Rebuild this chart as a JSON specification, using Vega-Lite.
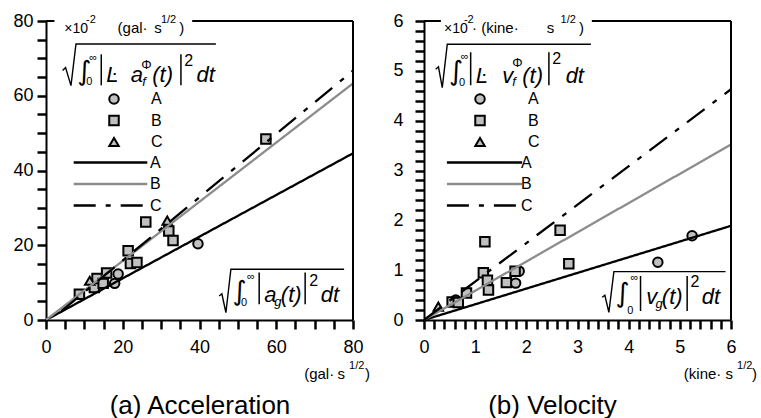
{
  "$schema": "https://vega.github.io/schema/vega-lite/v6.json",
  "background": "white",
  "padding": {"left": 12, "top": 12, "right": 2, "bottom": 0},
  "config": {
    "font": "Liberation Sans",
    "view": {"stroke": null},
    "axis": {"domainColor": "black", "domainWidth": 2, "tickColor": "black", "tickWidth": 2.5, "labelColor": "black", "labelFontSize": 18, "grid": false, "labelFlush": false, "labelOverlap": false, "titleFontWeight": "normal", "titleColor": "black", "titleFontSize": 26, "labelFont": "Liberation Sans", "titleFont": "Liberation Sans"},
    "legend": {"labelColor": "black", "labelFont": "Liberation Sans", "labelFontSize": 16, "padding": 0, "rowPadding": 3.5, "title": null},
    "text": {"color": "black", "align": "left", "baseline": "alphabetic"}
  },
  "datasets": {
    "ptsA": [
      {"x": 17.9, "y": 9.8, "s": "A"}, {"x": 18.8, "y": 12.3, "s": "A"}, {"x": 39.6, "y": 20.4, "s": "A"},
      {"x": 8.7, "y": 6.9, "s": "B"}, {"x": 12.6, "y": 8.7, "s": "B"}, {"x": 13.3, "y": 11.1, "s": "B"}, {"x": 14.9, "y": 9.8, "s": "B"}, {"x": 15.8, "y": 12.6, "s": "B"}, {"x": 21.4, "y": 18.5, "s": "B"}, {"x": 22.0, "y": 15.1, "s": "B"}, {"x": 23.7, "y": 15.4, "s": "B"}, {"x": 26.0, "y": 26.2, "s": "B"}, {"x": 32.0, "y": 23.8, "s": "B"}, {"x": 33.1, "y": 21.3, "s": "B"}, {"x": 57.3, "y": 48.4, "s": "B"},
      {"x": 11.4, "y": 10.5, "s": "C"}, {"x": 31.6, "y": 26.6, "s": "C"}
    ],
    "fitA": [
      {"x": 0, "y": 0, "f": "A"}, {"x": 80, "y": 44.6, "f": "A"},
      {"x": 0, "y": 0, "f": "B"}, {"x": 80, "y": 63.3, "f": "B"},
      {"x": 4, "y": 2.4, "f": "C"}, {"x": 80, "y": 66.7, "f": "C"}
    ],
    "ptsB": [
      {"x": 1.86, "y": 0.98, "s": "A"}, {"x": 1.79, "y": 0.74, "s": "A"}, {"x": 4.57, "y": 1.16, "s": "A"}, {"x": 5.24, "y": 1.69, "s": "A"}, {"x": 0.62, "y": 0.40, "s": "A"},
      {"x": 1.19, "y": 1.57, "s": "B"}, {"x": 2.66, "y": 1.80, "s": "B"}, {"x": 2.83, "y": 1.13, "s": "B"}, {"x": 1.16, "y": 0.95, "s": "B"}, {"x": 1.24, "y": 0.80, "s": "B"}, {"x": 1.26, "y": 0.60, "s": "B"}, {"x": 1.78, "y": 0.98, "s": "B"}, {"x": 1.61, "y": 0.75, "s": "B"}, {"x": 0.83, "y": 0.54, "s": "B"}, {"x": 0.55, "y": 0.36, "s": "B"}, {"x": 0.67, "y": 0.35, "s": "B"},
      {"x": 0.28, "y": 0.27, "s": "C"}
    ],
    "fitB": [
      {"x": 0, "y": 0, "f": "A"}, {"x": 6, "y": 1.89, "f": "A"},
      {"x": 0, "y": 0, "f": "B"}, {"x": 6, "y": 3.52, "f": "B"},
      {"x": 0, "y": 0, "f": "C"}, {"x": 6, "y": 4.63, "f": "C"}
    ],
    "frameA": [
      {"x": 80, "y": 0, "x2": 80, "y2": 80}, {"x": 0, "y": 80, "x2": 2.2, "y2": 80}, {"x": 38.1, "y": 80, "x2": 80, "y2": 80}
    ],
    "frameB": [
      {"x": 6, "y": 0, "x2": 6, "y2": 6}, {"x": 0, "y": 6, "x2": 0.33, "y2": 6}, {"x": 3.28, "y": 6, "x2": 6, "y2": 6}
    ],
    "barsA": [
      {"x": 14.4, "y": 62.8, "x2": 14.4, "y2": 71.09}, {"x": 35.16, "y": 62.8, "x2": 35.16, "y2": 71.09},
      {"x": 55.55, "y": 4.2, "x2": 55.55, "y2": 12.68}, {"x": 67.53, "y": 4.2, "x2": 67.53, "y2": 12.68}
    ],
    "barsB": [
      {"x": 0.912, "y": 4.71, "x2": 0.912, "y2": 5.372}, {"x": 2.441, "y": 4.71, "x2": 2.441, "y2": 5.372},
      {"x": 4.232, "y": 0.181, "x2": 4.232, "y2": 0.883}, {"x": 5.143, "y": 0.181, "x2": 5.143, "y2": 0.883}
    ],
    "radA": [
      {"x": 4.32, "y": 66.73, "k": 1, "id": "top"}, {"x": 5.10, "y": 67.53, "k": 2, "id": "top"}, {"x": 6.51, "y": 62.72, "k": 3, "id": "top"}, {"x": 7.81, "y": 73.85, "k": 4, "id": "top"}, {"x": 44.27, "y": 73.85, "k": 5, "id": "top"},
      {"x": 45.13, "y": 6.42, "k": 1, "id": "bottom"}, {"x": 45.83, "y": 7.01, "k": 2, "id": "bottom"}, {"x": 46.88, "y": 1.98, "k": 3, "id": "bottom"}, {"x": 48.18, "y": 13.57, "k": 4, "id": "bottom"}, {"x": 77.68, "y": 13.57, "k": 5, "id": "bottom"}
    ],
    "radB": [
      {"x": 0.2285, "y": 5.031, "k": 1, "id": "top"}, {"x": 0.283, "y": 5.081, "k": 2, "id": "top"}, {"x": 0.357, "y": 4.664, "k": 3, "id": "top"}, {"x": 0.455, "y": 5.533, "k": 4, "id": "top"}, {"x": 3.262, "y": 5.533, "k": 5, "id": "top"},
      {"x": 3.482, "y": 0.4555, "k": 1, "id": "bottom"}, {"x": 3.535, "y": 0.496, "k": 2, "id": "bottom"}, {"x": 3.613, "y": 0.1545, "k": 3, "id": "bottom"}, {"x": 3.711, "y": 0.971, "k": 4, "id": "bottom"}, {"x": 5.893, "y": 0.971, "k": 5, "id": "bottom"}
    ],
    "txtA": [
      {"x": 8.15, "y": 64.27, "t": "∫", "role": "integral"}, {"x": 48.6, "y": 5.4, "t": "∫", "role": "integral"},
      {"x": 11.28, "y": 69.2, "t": "∞", "role": "limit"}, {"x": 10.49, "y": 62.8, "t": "0", "role": "limit"}, {"x": 52.4, "y": 10.6, "t": "∞", "role": "limit"}, {"x": 50.8, "y": 3.67, "t": "0", "role": "limit"},
      {"x": 15.7, "y": 63.6, "t": "Ŀ", "role": "body"}, {"x": 22.1, "y": 63.6, "t": "a", "role": "body"}, {"x": 27.7, "y": 63.6, "t": "(t)", "role": "body"}, {"x": 39.2, "y": 63.6, "t": "dt", "role": "body"}, {"x": 56.9, "y": 4.71, "t": "a", "role": "body"}, {"x": 61.2, "y": 4.71, "t": "(t)", "role": "body"}, {"x": 71.6, "y": 4.71, "t": "dt", "role": "body"},
      {"x": 25.08, "y": 62.5, "t": "f", "role": "index"}, {"x": 59.45, "y": 3.67, "t": "g", "role": "index"},
      {"x": 24.8, "y": 67.1, "t": "Φ", "role": "super"},
      {"x": 36.0, "y": 67.9, "t": "2", "role": "power"}, {"x": 68.6, "y": 9.02, "t": "2", "role": "power"},
      {"x": 4.77, "y": 76.7, "t": "×10", "role": "scale"},
      {"x": 18.65, "y": 76.7, "t": "(gal·", "role": "unit"}, {"x": 28.2, "y": 76.7, "t": "s", "role": "unit"}, {"x": 34.7, "y": 76.7, "t": ")", "role": "unit"},
      {"x": 67.27, "y": -15.68, "t": "(gal·", "role": "unit"}, {"x": 75.94, "y": -15.68, "t": "s", "role": "unit"}, {"x": 83.15, "y": -15.68, "t": ")", "role": "unit"},
      {"x": 10.42, "y": 79.4, "t": "-2", "role": "unitexp"}, {"x": 29.95, "y": 79.4, "t": "1/2", "role": "unitexp"}, {"x": 78.98, "y": -13.0, "t": "1/2", "role": "unitexp"}
    ],
    "txtB": [
      {"x": 0.488, "y": 4.814, "t": "∫", "role": "integral"}, {"x": 3.744, "y": 0.365, "t": "∫", "role": "integral"},
      {"x": 0.717, "y": 5.212, "t": "∞", "role": "limit"}, {"x": 0.684, "y": 4.69, "t": "0", "role": "limit"}, {"x": 4.037, "y": 0.783, "t": "∞", "role": "limit"}, {"x": 3.971, "y": 0.114, "t": "0", "role": "limit"},
      {"x": 1.01, "y": 4.764, "t": "Ŀ", "role": "body"}, {"x": 1.529, "y": 4.764, "t": "v", "role": "body"}, {"x": 1.92, "y": 4.764, "t": "(t)", "role": "body"}, {"x": 2.768, "y": 4.764, "t": "dt", "role": "body"}, {"x": 4.342, "y": 0.315, "t": "v", "role": "body"}, {"x": 4.648, "y": 0.315, "t": "(t)", "role": "body"}, {"x": 5.43, "y": 0.315, "t": "dt", "role": "body"},
      {"x": 1.725, "y": 4.69, "t": "f", "role": "index"}, {"x": 4.525, "y": 0.235, "t": "g", "role": "index"},
      {"x": 1.725, "y": 5.071, "t": "Φ", "role": "super"},
      {"x": 2.506, "y": 5.131, "t": "2", "role": "power"}, {"x": 5.209, "y": 0.656, "t": "2", "role": "power"},
      {"x": 0.39, "y": 5.754, "t": "×10", "role": "scale"},
      {"x": 0.9375, "y": 5.754, "t": "· (kine·", "role": "unit"}, {"x": 2.40, "y": 5.754, "t": "s", "role": "unit"}, {"x": 3.027, "y": 5.754, "t": ")", "role": "unit"},
      {"x": 5.078, "y": -1.176, "t": "(kine·", "role": "unit"}, {"x": 5.893, "y": -1.176, "t": "s", "role": "unit"}, {"x": 6.412, "y": -1.176, "t": ")", "role": "unit"},
      {"x": 0.781, "y": 5.954, "t": "-2", "role": "unitexp"}, {"x": 2.67, "y": 5.954, "t": "1/2", "role": "unitexp"}, {"x": 6.119, "y": -0.975, "t": "1/2", "role": "unitexp"}
    ]
  },
  "spacing": 71,
  "bounds": "flush",
  "resolve": {"scale": {"shape": "independent", "color": "independent", "strokeDash": "independent"}, "legend": {"shape": "independent", "color": "independent", "strokeDash": "independent"}},
  "hconcat": [
    {
      "width": 307,
      "height": 299,
      "encoding": {
        "x": {"field": "x", "type": "quantitative", "scale": {"domain": [0, 80], "nice": false, "zero": false},
          "axis": {"values": [0, 5, 10, 15, 20, 25, 30, 35, 40, 45, 50, 55, 60, 65, 70, 75, 80], "labelExpr": "datum.value % 20 === 0 ? datum.label : ''", "ticks": true, "tickSize": 9, "tickColor": "#000000", "tickWidth": 2.5, "tickOpacity": 1, "labelPadding": 9, "labelOverlap": false, "title": "(a) Acceleration", "titlePadding": 36}},
        "y": {"field": "y", "type": "quantitative", "scale": {"domain": [0, 80], "nice": false, "zero": false},
          "axis": {"values": [0, 5, 10, 15, 20, 25, 30, 35, 40, 45, 50, 55, 60, 65, 70, 75, 80], "labelExpr": "datum.value % 20 === 0 ? datum.label : ''", "ticks": true, "tickSize": 9, "tickColor": "#000000", "tickWidth": 2.5, "tickOpacity": 1, "labelPadding": 4, "labelOverlap": false, "title": null}}
      },
      "layer": [
        {
          "data": {"name": "ptsA"},
          "mark": {"type": "point", "filled": true, "fill": "#c0c0c0", "stroke": "black", "strokeWidth": 2, "size": 90, "opacity": 1},
          "encoding": {
            "shape": {"field": "s", "type": "nominal", "scale": {"domain": ["A", "B", "C"], "range": ["circle", "square", "triangle-up"]},
              "legend": {"orient": "none", "legendX": 60, "legendY": 70, "labelOffset": 29, "symbolSize": 90, "symbolStrokeWidth": 2, "symbolOpacity": 1,
                "encode": {"symbols": {"fill": {"value": "#c0c0c0"}, "stroke": {"value": "black"}, "strokeWidth": {"value": 2}, "opacity": {"value": 1}}}}}
          }
        },
        {
          "data": {"name": "fitA"},
          "mark": {"type": "line", "strokeWidth": 2.3, "clip": true},
          "encoding": {
            "color": {"field": "f", "type": "nominal", "scale": {"range": ["black", "#8c8c8c", "black"]},
              "legend": {"orient": "none", "legendX": 55, "legendY": 132, "labelOffset": 30, "symbolType": "M-4.6,0H4.6", "symbolSize": 256, "symbolStrokeWidth": 2.5}},
            "strokeDash": {"field": "f", "type": "nominal", "scale": {"range": [[1, 0], [1, 0], [22, 10, 5, 10]]},
              "legend": {"orient": "none", "legendX": 55, "legendY": 132, "labelOffset": 30, "symbolType": "M-4.6,0H4.6", "symbolSize": 256, "symbolStrokeWidth": 2.5}}
          }
        },
        {"data": {"name": "frameA"}, "mark": {"type": "rule", "color": "black", "strokeWidth": 2}, "encoding": {"x2": {"field": "x2"}, "y2": {"field": "y2"}}},
        {"data": {"name": "barsA"}, "mark": {"type": "rule", "color": "black", "strokeWidth": 1.5}, "encoding": {"x2": {"field": "x2"}, "y2": {"field": "y2"}}},
        {"data": {"name": "radA"}, "mark": {"type": "line", "color": "black", "strokeWidth": 1.4, "strokeJoin": "miter"}, "encoding": {"order": {"field": "k"}, "detail": {"field": "id"}}},
        {"data": {"name": "txtA"}, "transform": [{"filter": "datum.role === 'integral'"}], "mark": {"type": "text", "fontSize": 27, "font": "DejaVu Sans"}, "encoding": {"text": {"field": "t"}}},
        {"data": {"name": "txtA"}, "transform": [{"filter": "datum.role === 'limit'"}], "mark": {"type": "text", "fontSize": 11}, "encoding": {"text": {"field": "t"}}},
        {"data": {"name": "txtA"}, "transform": [{"filter": "datum.role === 'body'"}], "mark": {"type": "text", "fontSize": 22, "fontStyle": "italic"}, "encoding": {"text": {"field": "t"}}},
        {"data": {"name": "txtA"}, "transform": [{"filter": "datum.role === 'index'"}], "mark": {"type": "text", "fontSize": 13, "fontStyle": "italic"}, "encoding": {"text": {"field": "t"}}},
        {"data": {"name": "txtA"}, "transform": [{"filter": "datum.role === 'super'"}], "mark": {"type": "text", "fontSize": 13}, "encoding": {"text": {"field": "t"}}},
        {"data": {"name": "txtA"}, "transform": [{"filter": "datum.role === 'power'"}], "mark": {"type": "text", "fontSize": 16}, "encoding": {"text": {"field": "t"}}},
        {"data": {"name": "txtA"}, "transform": [{"filter": "datum.role === 'scale'"}], "mark": {"type": "text", "fontSize": 14}, "encoding": {"text": {"field": "t"}}},
        {"data": {"name": "txtA"}, "transform": [{"filter": "datum.role === 'unit'"}], "mark": {"type": "text", "fontSize": 15}, "encoding": {"text": {"field": "t"}}},
        {"data": {"name": "txtA"}, "transform": [{"filter": "datum.role === 'unitexp'"}], "mark": {"type": "text", "fontSize": 11}, "encoding": {"text": {"field": "t"}}}
      ]
    },
    {
      "width": 307,
      "height": 299,
      "encoding": {
        "x": {"field": "x", "type": "quantitative", "scale": {"domain": [0, 6], "nice": false, "zero": false},
          "axis": {"values": [0, 0.2, 0.4, 0.6, 0.8, 1, 1.2, 1.4, 1.6, 1.8, 2, 2.2, 2.4, 2.6, 2.8, 3, 3.2, 3.4, 3.6, 3.8, 4, 4.2, 4.4, 4.6, 4.8, 5, 5.2, 5.4, 5.6, 5.8, 6], "labelExpr": "abs(datum.value - round(datum.value)) < 0.001 ? format(datum.value, 'd') : ''", "ticks": true, "tickSize": 9, "tickColor": "#000000", "tickWidth": 2.5, "tickOpacity": 1, "labelPadding": 9, "labelOverlap": false, "title": "(b) Velocity", "titlePadding": 36, "titleX": 128}},
        "y": {"field": "y", "type": "quantitative", "scale": {"domain": [0, 6], "nice": false, "zero": false},
          "axis": {"values": [0, 0.2, 0.4, 0.6, 0.8, 1, 1.2, 1.4, 1.6, 1.8, 2, 2.2, 2.4, 2.6, 2.8, 3, 3.2, 3.4, 3.6, 3.8, 4, 4.2, 4.4, 4.6, 4.8, 5, 5.2, 5.4, 5.6, 5.8, 6], "labelExpr": "abs(datum.value - round(datum.value)) < 0.001 ? format(datum.value, 'd') : ''", "ticks": true, "tickSize": 9, "tickColor": "#000000", "tickWidth": 2.5, "tickOpacity": 1, "labelPadding": 12, "labelOverlap": false, "title": null}}
      },
      "layer": [
        {
          "data": {"name": "ptsB"},
          "mark": {"type": "point", "filled": true, "fill": "#c0c0c0", "stroke": "black", "strokeWidth": 2, "size": 90, "opacity": 1},
          "encoding": {
            "shape": {"field": "s", "type": "nominal", "scale": {"domain": ["A", "B", "C"], "range": ["circle", "square", "triangle-up"]},
              "legend": {"orient": "none", "legendX": 48, "legendY": 70, "labelOffset": 40, "symbolSize": 90, "symbolStrokeWidth": 2, "symbolOpacity": 1,
                "encode": {"symbols": {"fill": {"value": "#c0c0c0"}, "stroke": {"value": "black"}, "strokeWidth": {"value": 2}, "opacity": {"value": 1}}}}}
          }
        },
        {
          "data": {"name": "fitB"},
          "mark": {"type": "line", "strokeWidth": 2.3, "clip": true},
          "encoding": {
            "color": {"field": "f", "type": "nominal", "scale": {"range": ["black", "#8c8c8c", "black"]},
              "legend": {"orient": "none", "legendX": 51, "legendY": 132, "labelOffset": 27, "symbolType": "M-4.7,0H4.7", "symbolSize": 256, "symbolStrokeWidth": 2.5}},
            "strokeDash": {"field": "f", "type": "nominal", "scale": {"range": [[1, 0], [1, 0], [22, 10, 5, 10]]},
              "legend": {"orient": "none", "legendX": 51, "legendY": 132, "labelOffset": 27, "symbolType": "M-4.7,0H4.7", "symbolSize": 256, "symbolStrokeWidth": 2.5}}
          }
        },
        {"data": {"name": "frameB"}, "mark": {"type": "rule", "color": "black", "strokeWidth": 2}, "encoding": {"x2": {"field": "x2"}, "y2": {"field": "y2"}}},
        {"data": {"name": "barsB"}, "mark": {"type": "rule", "color": "black", "strokeWidth": 1.5}, "encoding": {"x2": {"field": "x2"}, "y2": {"field": "y2"}}},
        {"data": {"name": "radB"}, "mark": {"type": "line", "color": "black", "strokeWidth": 1.4, "strokeJoin": "miter"}, "encoding": {"order": {"field": "k"}, "detail": {"field": "id"}}},
        {"data": {"name": "txtB"}, "transform": [{"filter": "datum.role === 'integral'"}], "mark": {"type": "text", "fontSize": 27, "font": "DejaVu Sans"}, "encoding": {"text": {"field": "t"}}},
        {"data": {"name": "txtB"}, "transform": [{"filter": "datum.role === 'limit'"}], "mark": {"type": "text", "fontSize": 11}, "encoding": {"text": {"field": "t"}}},
        {"data": {"name": "txtB"}, "transform": [{"filter": "datum.role === 'body'"}], "mark": {"type": "text", "fontSize": 22, "fontStyle": "italic"}, "encoding": {"text": {"field": "t"}}},
        {"data": {"name": "txtB"}, "transform": [{"filter": "datum.role === 'index'"}], "mark": {"type": "text", "fontSize": 13, "fontStyle": "italic"}, "encoding": {"text": {"field": "t"}}},
        {"data": {"name": "txtB"}, "transform": [{"filter": "datum.role === 'super'"}], "mark": {"type": "text", "fontSize": 13}, "encoding": {"text": {"field": "t"}}},
        {"data": {"name": "txtB"}, "transform": [{"filter": "datum.role === 'power'"}], "mark": {"type": "text", "fontSize": 16}, "encoding": {"text": {"field": "t"}}},
        {"data": {"name": "txtB"}, "transform": [{"filter": "datum.role === 'scale'"}], "mark": {"type": "text", "fontSize": 14}, "encoding": {"text": {"field": "t"}}},
        {"data": {"name": "txtB"}, "transform": [{"filter": "datum.role === 'unit'"}], "mark": {"type": "text", "fontSize": 15}, "encoding": {"text": {"field": "t"}}},
        {"data": {"name": "txtB"}, "transform": [{"filter": "datum.role === 'unitexp'"}], "mark": {"type": "text", "fontSize": 11}, "encoding": {"text": {"field": "t"}}}
      ]
    }
  ]
}
